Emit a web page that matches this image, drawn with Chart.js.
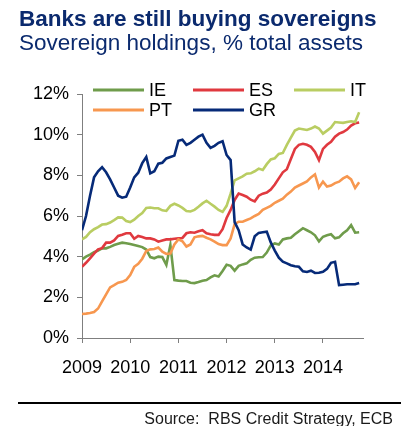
<!DOCTYPE html>
<html>
<head>
<meta charset="utf-8">
<script src="https://cdn.jsdelivr.net/npm/chart.js@4/dist/chart.umd.min.js"></script>
<style>
  html, body { margin: 0; padding: 0; background: #fff; }
  #wrap { position: relative; width: 401px; height: 426px; overflow: hidden;
          font-family: "Liberation Sans", Arial, sans-serif; }
  canvas { position: absolute; left: 0; top: 0; }
  .title { position: absolute; left: 19px; top: 8px; font-size: 22.5px; line-height: 22px;
           font-weight: bold; color: #0b2a6e; white-space: nowrap; }
  .subtitle { position: absolute; left: 19px; top: 32px; font-size: 22.5px; line-height: 22px;
              color: #0b2a6e; white-space: nowrap; }
  .rule { position: absolute; left: 18px; right: 0; top: 402px; height: 2px; background: #000; }
  .source { position: absolute; right: 8px; top: 411px; font-size: 16px; line-height: 16px;
            color: #1a1a1a; white-space: pre; }
</style>
</head>
<body>
<div id="wrap">
  <canvas id="chart" width="401" height="426"></canvas>
  <div class="title">Banks are still buying sovereigns</div>
  <div class="subtitle">Sovereign holdings, % total assets</div>
  <div class="rule"></div>
  <div class="source">Source:  RBS Credit Strategy, ECB</div>
</div>
<script>
// Monthly sovereign holdings as % of total assets, Jan 2009 – Oct 2014
const startYear = 2009;
const seriesNames = ['IE', 'ES', 'IT', 'PT', 'GR'];
const seriesColors = ['#6f9c4b', '#e0393f', '#b9cd62', '#f7974f', '#062a78'];

const IE = [3.87, 4.0, 4.1, 4.22, 4.3, 4.41, 4.41, 4.48, 4.57, 4.63, 4.69, 4.66,
            4.62, 4.57, 4.52, 4.47, 4.35, 3.98, 3.92, 4.0, 3.98, 3.6, 4.57, 2.85,
            2.82, 2.8, 2.8, 2.72, 2.7, 2.75, 2.82, 2.85, 2.98, 3.08, 3.02, 3.3,
            3.6, 3.55, 3.31, 3.55, 3.62, 3.67, 3.85, 3.95, 3.97, 3.98, 4.2, 4.55,
            4.65, 4.6, 4.85, 4.9, 4.93, 5.1, 5.25, 5.4, 5.3, 5.2, 5.05, 4.75,
            4.98, 5.05, 5.1, 4.9, 4.95, 5.15, 5.3, 5.55, 5.18, 5.2];

const ES = [3.5, 3.7, 3.92, 4.15, 4.36, 4.42, 4.69, 4.69, 4.8, 5.02, 5.08, 5.15,
            5.15, 4.88, 5.02, 4.97, 4.9, 4.9, 4.85, 4.74, 4.8, 4.85, 4.85, 4.88,
            4.9, 4.92, 5.15, 5.2, 5.18, 5.25, 5.3, 5.15, 5.1, 5.07, 5.07, 5.35,
            5.9, 6.3, 6.79, 7.1, 7.03, 6.95, 6.8, 6.72, 7.0, 7.1, 7.15, 7.3,
            7.55, 7.85, 8.15, 8.3, 8.8, 9.3, 9.5, 9.55, 9.5, 9.4, 9.15, 8.75,
            9.3, 9.5, 9.65, 9.9, 10.05, 10.13, 10.25, 10.45, 10.56, 10.6];

const IT = [4.85, 4.97, 5.2, 5.35, 5.45, 5.58, 5.6, 5.68, 5.8, 5.93, 5.92, 5.75,
            5.7, 5.82, 6.0, 6.15, 6.4, 6.42, 6.38, 6.38, 6.28, 6.25, 6.5, 6.6,
            6.52, 6.4, 6.25, 6.22, 6.3, 6.45, 6.62, 6.75, 6.6, 6.46, 6.3, 6.2,
            6.5, 7.1, 7.75, 7.85, 7.95, 8.08, 8.1, 8.2, 8.33, 8.26, 8.55, 8.78,
            8.84, 9.05, 9.1, 9.5, 9.85, 10.2, 10.3, 10.27, 10.23, 10.3, 10.4, 10.3,
            10.05, 10.2, 10.35, 10.62, 10.6, 10.58, 10.62, 10.66, 10.62, 11.1];

const PT = [1.18, 1.2, 1.23, 1.28, 1.45, 1.8, 2.15, 2.49, 2.6, 2.72, 2.76, 2.85,
            3.1, 3.5, 3.65, 3.9, 4.28, 4.36, 4.38, 4.45, 4.25, 4.14, 4.15, 4.6,
            4.85, 4.76, 4.5, 4.6, 4.95, 5.0, 5.02, 4.93, 4.85, 4.74, 4.62, 4.57,
            4.57, 4.9, 5.6, 5.72, 5.72, 5.8, 5.88, 6.0, 6.1, 6.3, 6.4, 6.5,
            6.65, 6.75, 6.85, 7.05, 7.2, 7.4, 7.5, 7.6, 7.7, 7.9, 8.05, 7.4,
            7.69, 7.45, 7.5, 7.62, 7.69, 7.85, 7.95, 7.8, 7.38, 7.66];

const GR = [5.3, 6.0, 7.0, 7.9, 8.2, 8.4, 8.15, 7.8, 7.4, 7.0, 6.9, 6.95,
            7.4, 7.9, 8.13, 8.6, 8.9, 8.1, 8.2, 8.57, 8.62, 8.83, 8.9, 8.97,
            9.7, 9.75, 9.5, 9.6, 9.75, 9.9, 10.0, 9.6, 9.35, 9.45, 9.6, 9.68,
            9.0, 8.75, 5.7, 5.3, 4.6, 4.45, 4.35, 5.0, 5.17, 5.2, 5.23, 4.7,
            4.3, 3.95, 3.75, 3.67, 3.58, 3.53, 3.5, 3.28, 3.25, 3.31, 3.2, 3.21,
            3.26, 3.4, 3.7, 3.75, 2.6, 2.62, 2.64, 2.64, 2.64, 2.7];

const yTicks = [0, 2, 4, 6, 8, 10, 12];
const xYears = [2009, 2010, 2011, 2012, 2013, 2014];

const seriesValues = [IE, ES, IT, PT, GR];
// month positions on a fractional-year axis
const monthPositions = IE.map((_, i) => startYear + i / 12);

const FONT = '"Liberation Sans", Arial, sans-serif';
const AXIS_GREY = '#7f7f7f';

// Legend drawn inside the plot, two rows of three columns
const insideLegend = {
  id: 'insideLegend',
  afterDraw(chart) {
    const ctx = chart.ctx;
    const colX = [93, 193, 294];
    const rowY = [90, 110];
    ctx.save();
    ctx.font = '18px ' + FONT;
    ctx.textBaseline = 'middle';
    ctx.fillStyle = '#000';
    chart.data.datasets.forEach((ds, i) => {
      const x = colX[i % 3];
      const y = rowY[Math.floor(i / 3)];
      ctx.strokeStyle = ds.borderColor;
      ctx.lineWidth = 3;
      ctx.beginPath();
      ctx.moveTo(x, y);
      ctx.lineTo(x + 51, y);
      ctx.stroke();
      ctx.fillText(ds.label, x + 56, y + 1);
    });
    ctx.restore();
  }
};

new Chart(document.getElementById('chart'), {
  type: 'line',
  data: {
    labels: monthPositions,
    datasets: seriesNames.map((name, i) => ({
      label: name,
      data: seriesValues[i],
      borderColor: seriesColors[i],
      backgroundColor: seriesColors[i],
      borderWidth: 2.6,
      pointRadius: 0,
      tension: 0,
      fill: false,
      order: seriesNames.length - i
    }))
  },
  options: {
    responsive: false,
    animation: false,
    devicePixelRatio: 1,
    layout: { padding: { left: 0, right: 38, top: 94, bottom: 48 } },
    plugins: { legend: { display: false }, tooltip: { enabled: false }, title: { display: false } },
    scales: {
      x: {
        type: 'linear',
        min: 2009,
        max: 2014.83,
        afterFit: s => { s.height = 40; },
        afterBuildTicks: s => { s.ticks = xYears.map(v => ({ value: v })); },
        ticks: {
          includeBounds: false,
          autoSkip: false,
          maxRotation: 0,
          padding: 14,
          color: '#000',
          font: { family: FONT, size: 18 },
          callback: v => String(v)
        },
        grid: { drawOnChartArea: false, drawTicks: true, tickLength: 5, color: AXIS_GREY, lineWidth: 1 },
        border: { display: true, color: AXIS_GREY, width: 1 }
      },
      y: {
        min: 0,
        max: 12,
        afterFit: s => { s.width = 82; },
        afterBuildTicks: s => { s.ticks = yTicks.map(v => ({ value: v })); },
        ticks: {
          padding: 8,
          color: '#000',
          font: { family: FONT, size: 18 },
          callback: v => v + '%'
        },
        grid: { drawOnChartArea: false, drawTicks: true, tickLength: 5, color: AXIS_GREY, lineWidth: 1 },
        border: { display: true, color: AXIS_GREY, width: 1 }
      }
    }
  },
  plugins: [insideLegend]
});
</script>
</body>
</html>
